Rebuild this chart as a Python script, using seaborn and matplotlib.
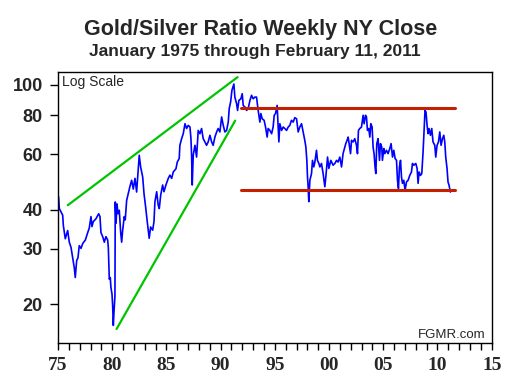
import numpy as np
import pandas as pd
import matplotlib
matplotlib.use('Agg')
import matplotlib.pyplot as plt
import seaborn as sns
from matplotlib.ticker import FixedLocator, NullLocator, MultipleLocator

# weekly close (decimal year, ratio)
years = [1975.05, 1975.12, 1975.43, 1975.49, 1975.67, 1975.89, 1976.04, 1976.20, 1976.35, 1976.50,
         1976.59, 1976.72, 1976.84, 1976.96, 1977.12, 1977.28, 1977.52, 1977.74, 1977.88, 1978.04,
         1978.13, 1978.25, 1978.50, 1978.75, 1978.87, 1978.96, 1979.12, 1979.27, 1979.42, 1979.58,
         1979.64, 1979.73, 1979.82, 1979.88, 1979.98, 1980.04, 1980.10, 1980.16, 1980.25, 1980.28,
         1980.35, 1980.44, 1980.53, 1980.65, 1980.78, 1980.87, 1980.96, 1981.11, 1981.20, 1981.33,
         1981.48, 1981.64, 1981.79, 1981.94, 1982.10, 1982.25, 1982.37, 1982.49, 1982.62, 1982.81,
         1982.93, 1983.08, 1983.23, 1983.41, 1983.54, 1983.73, 1983.85, 1983.94, 1984.10, 1984.24,
         1984.34, 1984.47, 1984.65, 1984.77, 1984.95, 1985.17, 1985.32, 1985.48, 1985.63, 1985.88,
         1986.00, 1986.18, 1986.24, 1986.40, 1986.55, 1986.71, 1986.86, 1987.01, 1987.17, 1987.26,
         1987.32, 1987.38, 1987.47, 1987.63, 1987.78, 1987.93, 1988.09, 1988.24, 1988.39, 1988.55,
         1988.70, 1988.85, 1989.01, 1989.17, 1989.31, 1989.47, 1989.63, 1989.77, 1989.93, 1990.09,
         1990.24, 1990.39, 1990.55, 1990.70, 1990.79, 1990.92, 1991.04, 1991.22, 1991.31, 1991.47,
         1991.56, 1991.68, 1991.87, 1991.99, 1992.08, 1992.24, 1992.39, 1992.54, 1992.70, 1992.85,
         1993.00, 1993.16, 1993.31, 1993.46, 1993.62, 1993.71, 1993.83, 1994.01, 1994.14, 1994.29,
         1994.38, 1994.54, 1994.70, 1994.84, 1994.94, 1995.06, 1995.21, 1995.30, 1995.37, 1995.46,
         1995.62, 1995.77, 1995.92, 1996.08, 1996.23, 1996.38, 1996.53, 1996.69, 1996.84, 1997.00,
         1997.15, 1997.30, 1997.46, 1997.61, 1997.76, 1997.86, 1997.95, 1998.01, 1998.07, 1998.13,
         1998.23, 1998.38, 1998.47, 1998.59, 1998.69, 1998.84, 1998.93, 1999.06, 1999.15, 1999.30,
         1999.45, 1999.61, 1999.70, 1999.86, 1999.98, 2000.16, 2000.37, 2000.53, 2000.69, 2000.83,
         2000.99, 2001.15, 2001.29, 2001.45, 2001.54, 2001.66, 2001.76, 2001.85, 2001.98, 2002.07,
         2002.22, 2002.37, 2002.53, 2002.62, 2002.71, 2002.83, 2002.99, 2003.14, 2003.23, 2003.36,
         2003.45, 2003.54, 2003.66, 2003.76, 2003.85, 2003.97, 2004.06, 2004.15, 2004.24, 2004.31,
         2004.40, 2004.52, 2004.65, 2004.74, 2004.86, 2004.92, 2005.05, 2005.14, 2005.29, 2005.44,
         2005.60, 2005.72, 2005.85, 2005.97, 2006.09, 2006.22, 2006.31, 2006.40, 2006.49, 2006.59,
         2006.68, 2006.77, 2006.89, 2007.01, 2007.14, 2007.29, 2007.44, 2007.60, 2007.69, 2007.81,
         2008.00, 2008.12, 2008.21, 2008.30, 2008.43, 2008.55, 2008.67, 2008.76, 2008.85, 2008.94,
         2009.04, 2009.13, 2009.22, 2009.35, 2009.47, 2009.59, 2009.75, 2009.84, 2009.96, 2010.09,
         2010.21, 2010.33, 2010.46, 2010.58, 2010.67, 2010.76, 2010.88, 2010.97, 2011.06, 2011.16,
         2011.19]
ratio = [44.0, 40.3, 38.4, 35.6, 32.3, 34.3, 31.5, 30.3, 28.1, 26.1,
         24.3, 27.5, 28.1, 30.7, 30.1, 31.2, 32.0, 33.8, 34.9, 38.0,
         35.3, 36.6, 37.4, 38.8, 38.0, 33.8, 32.8, 31.5, 32.8, 32.0,
         30.3, 24.0, 24.3, 22.6, 21.5, 19.7, 17.1, 18.8, 21.2, 42.3,
         36.2, 41.7, 38.8, 39.8, 33.8, 31.5, 34.3, 38.0, 37.1, 42.8,
         45.0, 47.5, 49.6, 46.5, 50.3, 45.5, 52.0, 59.6, 54.7, 50.8,
         45.0, 40.8, 36.6, 32.4, 35.2, 34.4, 36.6, 42.4, 45.6, 41.3,
         40.3, 44.5, 47.9, 45.6, 47.9, 50.3, 51.5, 50.3, 52.7, 54.0,
         56.7, 58.2, 64.1, 67.3, 69.8, 75.1, 72.5, 74.2, 73.3, 67.3,
         59.6, 47.9, 59.6, 64.1, 58.8, 71.5, 69.8, 72.5, 67.3, 65.7,
         64.1, 65.7, 69.0, 65.7, 64.1, 68.1, 70.7, 72.5, 70.7, 78.9,
         74.2, 70.7, 71.5, 76.0, 83.9, 88.1, 96.0, 100.5, 91.3, 87.0,
         82.8, 89.1, 90.2, 93.6, 85.9, 84.9, 82.8, 83.9, 89.1, 92.5,
         90.2, 91.3, 91.3, 82.8, 76.0, 80.9, 77.9, 77.0, 73.3, 68.1,
         72.5, 71.5, 69.8, 73.3, 79.9, 80.9, 85.9, 73.3, 65.7, 75.1,
         71.5, 73.3, 72.5, 71.5, 73.3, 74.2, 77.0, 76.0, 78.5, 77.9,
         70.7, 73.3, 75.1, 70.7, 66.5, 63.3, 57.4, 50.8, 47.3, 42.4,
         49.6, 52.1, 57.4, 54.7, 56.7, 61.8, 57.4, 56.1, 54.7, 56.1,
         52.1, 47.3, 50.8, 58.8, 54.1, 57.4, 55.4, 56.1, 57.4, 56.7,
         58.8, 54.7, 60.3, 63.3, 64.9, 66.5, 68.1, 64.9, 60.3, 66.5,
         65.7, 67.3, 64.1, 60.3, 71.5, 72.5, 73.3, 79.9, 75.1, 79.9,
         78.9, 71.5, 72.5, 68.1, 75.1, 73.3, 63.3, 60.3, 54.7, 52.1,
         64.9, 67.3, 57.4, 64.9, 63.3, 57.4, 62.6, 60.3, 61.8, 60.3,
         62.6, 64.9, 58.8, 61.8, 58.2, 57.4, 49.6, 46.7, 54.7, 57.4,
         50.8, 48.5, 49.6, 46.1, 49.0, 49.6, 51.4, 52.7, 56.1, 55.4,
         56.1, 54.1, 48.5, 52.7, 51.4, 52.1, 61.1, 70.7, 82.8, 81.8,
         74.2, 69.8, 72.5, 69.0, 72.5, 65.7, 64.1, 58.8, 64.1, 65.7,
         70.7, 64.1, 67.3, 69.0, 65.7, 58.8, 54.1, 49.0, 47.9, 46.1,
         45.5]

# trend lines (endpoints)
upper_trend_x = [1975.9, 1991.56]
upper_trend_y = [41.3, 105.7]
lower_trend_x = [1980.4, 1991.34]
lower_trend_y = [16.66, 76.8]
band_x = [1991.87, 2011.65]
band_top = [84.1, 84.1]
band_bottom = [46.2, 46.2]

y_ticks = [20, 30, 40, 60, 80, 100]
x_ticks = [1975, 1980, 1985, 1990, 1995, 2000, 2005, 2010, 2015]
x_labels = ['75', '80', '85', '90', '95', '00', '05', '10', '15']

sns.set_style("white")
plt.rcParams['font.family'] = ['Liberation Sans', 'DejaVu Sans']

fig = plt.figure(figsize=(5.26, 3.84), dpi=100)
ax = fig.add_axes([0.1103, 0.1060, 0.8245, 0.7073])

df = pd.DataFrame({'year': years, 'ratio': ratio})
sns.lineplot(data=df, x='year', y='ratio', ax=ax, color='#0000ff', lw=1.2, sort=False, estimator=None)
sns.lineplot(x=upper_trend_x, y=upper_trend_y, ax=ax, color='#00c400', lw=1.6)
sns.lineplot(x=lower_trend_x, y=lower_trend_y, ax=ax, color='#00c400', lw=1.6)
sns.lineplot(x=band_x, y=band_top, ax=ax, color='#c42000', lw=2.2)
sns.lineplot(x=band_x, y=band_bottom, ax=ax, color='#c42000', lw=2.2)

ax.set_yscale('log')
ax.set_xlim(1975, 2015)
ax.set_ylim(15, 110)
ax.yaxis.set_major_locator(FixedLocator(y_ticks))
ax.yaxis.set_minor_locator(NullLocator())
ax.set_yticklabels([str(v) for v in y_ticks], fontsize=13, fontweight='bold')
ax.set_xticks(x_ticks)
ax.set_xticklabels(x_labels, fontsize=14, fontweight='bold', family='Liberation Serif')
ax.xaxis.set_minor_locator(MultipleLocator(1))
ax.tick_params(axis='x', which='both', direction='out', length=5, width=1, color='black', pad=5, bottom=True)
ax.tick_params(axis='y', which='major', direction='out', length=6, width=1, color='black', pad=5, left=True)
ax.set_xlabel('')
ax.set_ylabel('')
for s in ax.spines.values():
    s.set_color('black')
    s.set_linewidth(1.0)

ax.text(0.010, 0.988, 'Log Scale', transform=ax.transAxes, ha='left', va='top', fontsize=10)
ax.text(0.986, 0.018, 'FGMR.com', transform=ax.transAxes, ha='right', va='baseline', fontsize=9.5)

fig.text(0.496, 0.908, 'Gold/Silver Ratio Weekly NY Close', ha='center', va='baseline',
         fontsize=15.5, fontweight='bold')
fig.text(0.484, 0.855, 'January 1975 through February 11, 2011', ha='center', va='baseline',
         fontsize=12.5, fontweight='bold')

fig.savefig('out.png', dpi=100)
